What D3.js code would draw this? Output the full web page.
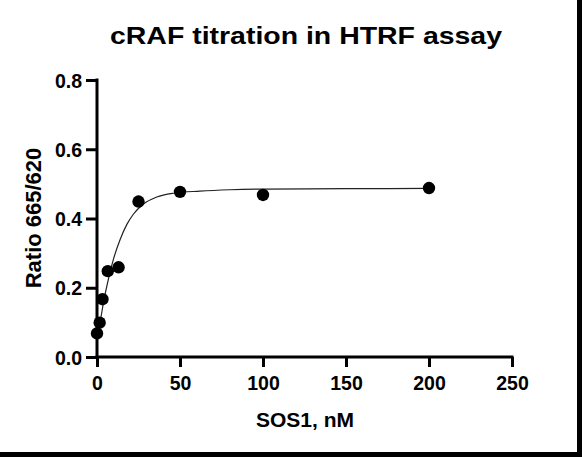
<!DOCTYPE html>
<html>
<head>
<meta charset="utf-8">
<script src="https://cdn.jsdelivr.net/npm/d3@7"></script>
<style>
  html, body { margin: 0; padding: 0; background: #fff; }
  svg { display: block; }
  text { font-family: "Liberation Sans", Arial, sans-serif; font-weight: bold; fill: #000; }
</style>
</head>
<body>
<svg id="chart" width="582" height="457"></svg>
<script>
// Data
const concentration = [0, 1.6, 3.3, 6.5, 13, 25, 50, 100, 200];
const ratio = [0.068, 0.099, 0.167, 0.248, 0.259, 0.449, 0.477, 0.468, 0.488];
// Fitted curve
const curveX = [0, 2, 4, 7, 10, 14, 18, 22, 28, 36, 46, 62, 80, 100, 150, 200];
const curveY = [0.068, 0.105, 0.160, 0.228, 0.284, 0.340, 0.383, 0.413, 0.442, 0.462, 0.473, 0.479, 0.483, 0.485, 0.486, 0.487];
const xTicks = [0, 50, 100, 150, 200, 250];
const yTicks = [0.0, 0.2, 0.4, 0.6, 0.8];
const title = "cRAF titration in HTRF assay";
const xTitle = "SOS1, nM";
const yTitle = "Ratio 665/620";

const svg = d3.select("#chart");
const x = d3.scaleLinear().domain([0, 250]).range([97, 512]);
const y = d3.scaleLinear().domain([0, 0.8]).range([357, 80]);

// frame edges
svg.append("rect").attr("x", 577).attr("y", 0).attr("width", 5).attr("height", 457).attr("fill", "#000");
svg.append("rect").attr("x", 0).attr("y", 452).attr("width", 582).attr("height", 5).attr("fill", "#000");

// title
svg.append("text").attr("x", 306).attr("y", 44).attr("text-anchor", "middle")
  .style("font-size", "24px").attr("textLength", 392).attr("lengthAdjust", "spacingAndGlyphs")
  .text(title);

// axes
const xAxis = d3.axisBottom(x).tickValues(xTicks).tickFormat(d3.format("d")).tickSize(10).tickPadding(9);
const gx = svg.append("g").attr("transform", `translate(0,${y(0)})`).call(xAxis);
const yAxis = d3.axisLeft(y).tickValues(yTicks).tickFormat(d3.format(".1f")).tickSize(11).tickPadding(4);
const gy = svg.append("g").attr("transform", `translate(${x(0)},0)`).call(yAxis);
[gx, gy].forEach(g => {
  g.select(".domain").remove();
  g.selectAll(".tick line").attr("stroke", "#000").attr("stroke-width", 3);
  g.selectAll(".tick text").style("font-size", "19.5px").style("font-family", "Liberation Sans, Arial, sans-serif").style("font-weight", "bold");
});
gy.selectAll(".tick text").attr("dy", "0.36em");
svg.append("line").attr("x1", x(0) - 1.5).attr("x2", x(250) + 1.5).attr("y1", y(0)).attr("y2", y(0))
  .attr("stroke", "#000").attr("stroke-width", 3);
svg.append("line").attr("x1", x(0)).attr("x2", x(0)).attr("y1", y(0.8) - 1.5).attr("y2", y(0) + 1.5)
  .attr("stroke", "#000").attr("stroke-width", 3);

// axis titles
svg.append("text").attr("x", 305).attr("y", 427).attr("text-anchor", "middle")
  .style("font-size", "21px").text(xTitle);
svg.append("text").attr("transform", "translate(41,218) rotate(-90)").attr("text-anchor", "middle")
  .style("font-size", "22px").text(yTitle);

// fit curve
const line = d3.line().x(d => x(d[0])).y(d => y(d[1])).curve(d3.curveMonotoneX);
svg.append("path").datum(curveX.map((v, i) => [v, curveY[i]]))
  .attr("d", line).attr("fill", "none").attr("stroke", "#222").attr("stroke-width", 1.2);

// points
svg.append("g").selectAll("circle").data(concentration.map((v, i) => [v, ratio[i]]))
  .join("circle").attr("cx", d => x(d[0])).attr("cy", d => y(d[1])).attr("r", 6.2).attr("fill", "#000");
</script>
</body>
</html>
